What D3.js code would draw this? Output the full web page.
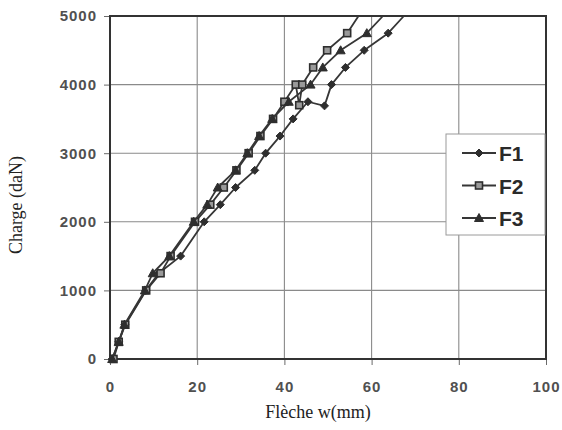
<!DOCTYPE html>
<html>
<head>
<meta charset="utf-8">
<script src="https://cdn.jsdelivr.net/npm/d3@7"></script>
<style>
  html, body { margin: 0; padding: 0; background: #fff; }
  svg { display: block; }
</style>
</head>
<body>
<svg id="chart" width="562" height="430"></svg>
<script>
// Load-deflection curves for three test beams
const f1Fleche = [0.5, 2.0, 3.4, 8.2, 11.2, 16.2, 21.6, 25.3, 28.8, 33.2, 35.7, 39.0, 42.0, 45.4, 49.2, 50.8, 54.0, 58.3, 63.8, 67.4];
const f1Charge = [0, 250, 500, 1000, 1250, 1500, 2000, 2250, 2500, 2750, 3000, 3250, 3500, 3750, 3690, 4000, 4250, 4500, 4750, 5000];

const f2Fleche = [0.8, 2.0, 3.5, 8.3, 11.6, 13.9, 19.5, 23.0, 26.1, 29.0, 31.8, 34.5, 37.4, 40.0, 42.6, 43.4, 44.1, 46.6, 49.8, 54.4, 57.0];
const f2Charge = [0, 250, 500, 1000, 1250, 1500, 2000, 2250, 2500, 2750, 3000, 3250, 3500, 3750, 4000, 3700, 4000, 4250, 4500, 4750, 5000];

const f3Fleche = [0.5, 2.0, 3.3, 8.0, 9.8, 13.6, 19.2, 22.3, 24.7, 28.8, 31.5, 34.2, 37.2, 41.0, 46.0, 48.8, 52.9, 58.9, 62.6];
const f3Charge = [0, 250, 500, 1000, 1250, 1500, 2000, 2250, 2500, 2750, 3000, 3250, 3500, 3750, 4000, 4250, 4500, 4750, 5000];

const seriesNames = ["F1", "F2", "F3"];
const xTicks = [0, 20, 40, 60, 80, 100];
const yTicks = [0, 1000, 2000, 3000, 4000, 5000];
const xTitle = "Flèche w(mm)";
const yTitle = "Charge (daN)";

const series = [
  { name: seriesNames[0], x: f1Fleche, y: f1Charge, shape: "diamond" },
  { name: seriesNames[1], x: f2Fleche, y: f2Charge, shape: "square" },
  { name: seriesNames[2], x: f3Fleche, y: f3Charge, shape: "triangle" }
];

const svg = d3.select("#chart");
const plot = { left: 110, right: 546, top: 16, bottom: 359 };

const x = d3.scaleLinear().domain([0, 100]).range([plot.left, plot.right]);
const y = d3.scaleLinear().domain([0, 5000]).range([plot.bottom, plot.top]);

const ink = "#363636";
const labelInk = "#505050";

// grid
const grid = svg.append("g");
grid.selectAll("line.gx").data(xTicks.slice(1, -1)).join("line")
  .attr("x1", d => x(d)).attr("x2", d => x(d))
  .attr("y1", plot.top).attr("y2", plot.bottom)
  .attr("stroke", "#8a8a8a").attr("stroke-width", 1.1);
grid.selectAll("line.gy").data(yTicks.slice(1, -1)).join("line")
  .attr("x1", plot.left).attr("x2", plot.right)
  .attr("y1", d => y(d)).attr("y2", d => y(d))
  .attr("stroke", "#8a8a8a").attr("stroke-width", 1.1);

// axes
const xAxis = d3.axisBottom(x).tickValues(xTicks).tickSize(6).tickPadding(16).tickFormat(d3.format("d"));
const yAxis = d3.axisLeft(y).tickValues(yTicks).tickSize(6).tickPadding(7).tickFormat(d3.format("d"));

const gx = svg.append("g").attr("transform", `translate(0,${plot.bottom})`).call(xAxis);
const gy = svg.append("g").attr("transform", `translate(${plot.left},0)`).call(yAxis);
[gx, gy].forEach(g => {
  g.select(".domain").remove();
  g.selectAll(".tick line").attr("stroke", "#6a6a6a").attr("stroke-width", 1);
  g.selectAll(".tick text")
    .attr("fill", labelInk)
    .style("font-family", "'Liberation Sans', Arial, sans-serif")
    .style("font-weight", "bold")
    .style("font-size", "15px")
    .style("letter-spacing", "1px");
});

// frame
svg.append("rect")
  .attr("x", plot.left).attr("y", plot.top)
  .attr("width", plot.right - plot.left).attr("height", plot.bottom - plot.top)
  .attr("fill", "none").attr("stroke", "#333").attr("stroke-width", 2);

// markers
function marker(sel, shape) {
  if (shape === "diamond") {
    sel.append("path").attr("d", "M0,-4 L4,0 L0,4 L-4,0 Z")
      .attr("fill", "#2e2e2e").attr("stroke", "#2e2e2e").attr("stroke-width", 1);
  } else if (shape === "square") {
    sel.append("rect").attr("x", -3.5).attr("y", -3.5).attr("width", 7).attr("height", 7)
      .attr("fill", "#9a9a9a").attr("stroke", "#2e2e2e").attr("stroke-width", 1.6);
  } else {
    sel.append("path").attr("d", "M0,-4.5 L4.5,3.5 L-4.5,3.5 Z")
      .attr("fill", "#2e2e2e").attr("stroke", "#2e2e2e").attr("stroke-width", 1);
  }
}

const line = d3.line().x(d => x(d[0])).y(d => y(d[1]));

series.forEach(s => {
  const pts = s.x.map((v, i) => [v, s.y[i]]);
  svg.append("path").datum(pts)
    .attr("d", line)
    .attr("fill", "none").attr("stroke", ink).attr("stroke-width", 1.8)
    .attr("stroke-linejoin", "round");
  svg.append("g").selectAll("g").data(pts.filter(p => p[1] < 5000)).join("g")
    .attr("transform", d => `translate(${x(d[0])},${y(d[1])})`)
    .each(function () { marker(d3.select(this), s.shape); });
});

// legend
const lg = svg.append("g").attr("transform", "translate(446,134)");
lg.append("rect").attr("width", 99).attr("height", 101)
  .attr("fill", "#fff").attr("stroke", "#9a9a9a").attr("stroke-width", 1);
series.forEach((s, i) => {
  const row = lg.append("g").attr("transform", `translate(0,${19 + i * 32.5})`);
  row.append("line").attr("x1", 16).attr("x2", 50).attr("y1", 0).attr("y2", 0)
    .attr("stroke", ink).attr("stroke-width", 1.8);
  marker(row.append("g").attr("transform", "translate(33,0)"), s.shape);
  row.append("text").attr("x", 53).attr("y", 8)
    .text(s.name)
    .attr("fill", "#2a2a2a")
    .style("font-family", "'Liberation Sans', Arial, sans-serif")
    .style("font-weight", "bold")
    .style("font-size", "21px");
});

// axis titles
svg.append("text")
  .attr("x", 318).attr("y", 418)
  .attr("text-anchor", "middle")
  .attr("fill", "#222")
  .style("font-family", "'Liberation Serif', 'Times New Roman', serif")
  .style("font-size", "18px")
  .text(xTitle);

svg.append("text")
  .attr("transform", "translate(22,205) rotate(-90)")
  .attr("text-anchor", "middle")
  .attr("fill", "#222")
  .style("font-family", "'Liberation Serif', 'Times New Roman', serif")
  .style("font-size", "18px")
  .text(yTitle);
</script>
</body>
</html>
